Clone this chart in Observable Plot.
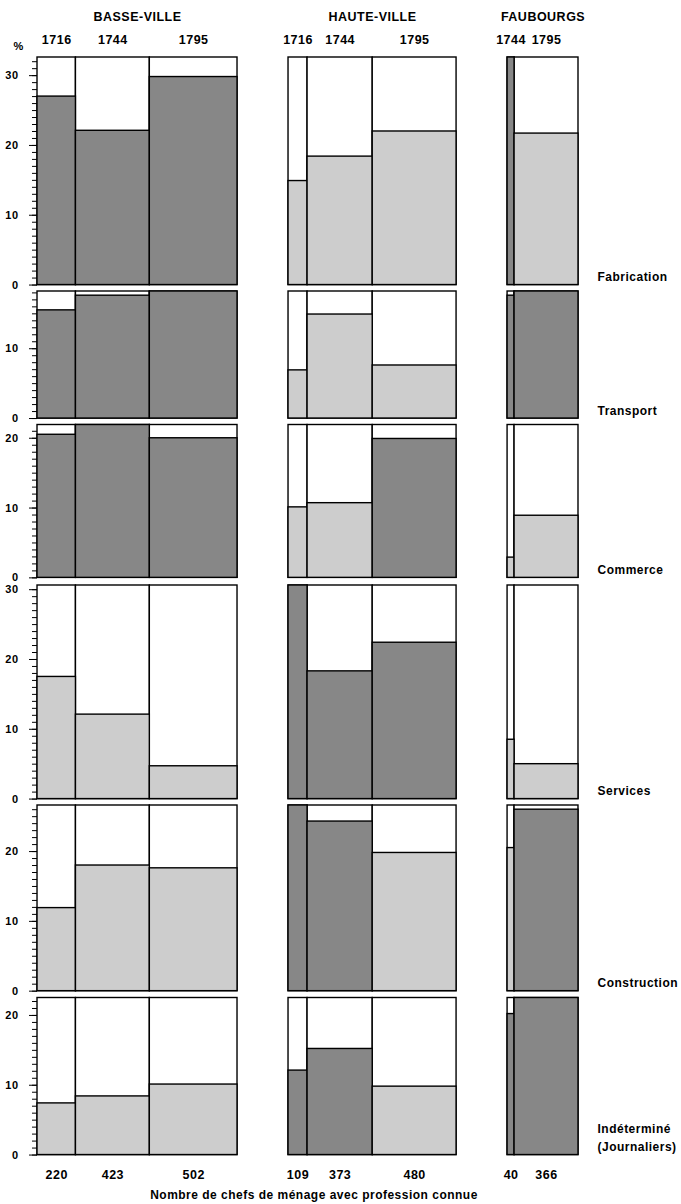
<!DOCTYPE html>
<html><head><meta charset="utf-8">
<script src="https://cdn.jsdelivr.net/npm/d3@7"></script>
<script src="https://cdn.jsdelivr.net/npm/@observablehq/plot@0.6"></script>
<style>
body{margin:0;background:#fff;}
#chart svg{display:block;}
</style></head><body><div id="chart"></div>
<script>
// ---- data ----
const groups = ["BASSE-VILLE", "HAUTE-VILLE", "FAUBOURGS"];
const columnGroup = [0, 0, 0, 1, 1, 1, 2, 2];
const columnYear = ["1716", "1744", "1795", "1716", "1744", "1795", "1744", "1795"];
const columnCount = [220, 423, 502, 109, 373, 480, 40, 366];
const categories = ["Fabrication", "Transport", "Commerce", "Services", "Construction", "Indéterminé\n(Journaliers)"];
const fabrication  = [27.0, 22.1, 29.8, 14.9, 18.4, 22.0, 32.6, 21.7];
const transport    = [15.5, 17.6, 18.2, 6.9, 14.9, 7.6, 17.6, 18.2];
const commerce     = [20.5, 21.9, 20.0, 10.1, 10.7, 19.9, 2.9, 8.9];
const services     = [17.5, 12.1, 4.7, 30.6, 18.3, 22.4, 8.5, 5.0];
const construction = [11.9, 18.0, 17.6, 26.6, 24.3, 19.8, 20.5, 26.0];
const indetermine  = [7.4, 8.4, 10.1, 12.1, 15.2, 9.8, 20.2, 22.5];
// D = dark screen, L = light screen
const fabricationShade  = ["D", "D", "D", "L", "L", "L", "D", "L"];
const transportShade    = ["D", "D", "D", "L", "L", "L", "D", "D"];
const commerceShade     = ["D", "D", "D", "L", "L", "D", "L", "L"];
const servicesShade     = ["L", "L", "L", "D", "D", "D", "L", "L"];
const constructionShade = ["L", "L", "L", "D", "D", "L", "L", "D"];
const indetermineShade  = ["L", "L", "L", "D", "D", "L", "D", "D"];
const caption = "Nombre de chefs de ménage avec profession connue";

// ---- layout ----
const GAP = 292;       // x units between groups
const PX = 6.98;       // pixels per percent
const DARK = "#878787", LIGHT = "#cdcdcd";
const FONT = "'Liberation Sans','Arial',sans-serif";
const marginTops    = [57, 3, 3.5, 4, 3, 3.5];
const marginBottoms = [3, 3, 4.5, 3, 3, 49.5];

let cursor = 0;
const cols = columnCount.map((n, i) => {
  if (i > 0 && columnGroup[i] !== columnGroup[i - 1]) cursor += GAP;
  const c = {i, group: columnGroup[i], year: columnYear[i], count: n, x1: cursor, x2: cursor + n};
  cursor += n;
  return c;
});
const xMax = cursor;
const groupData = groups.map((g, gi) => {
  const cs = cols.filter(c => c.group === gi);
  return {name: g, x: (cs[0].x1 + cs[cs.length - 1].x2) / 2};
});

const rows = [
  {name: categories[0], values: fabrication, shade: fabricationShade},
  {name: categories[1], values: transport, shade: transportShade},
  {name: categories[2], values: commerce, shade: commerceShade},
  {name: categories[3], values: services, shade: servicesShade},
  {name: categories[4], values: construction, shade: constructionShade},
  {name: categories[5], values: indetermine, shade: indetermineShade}
];

const chart = document.getElementById("chart");
rows.forEach((row, r) => {
  const max = d3.max(row.values);
  const first = r === 0, last = r === rows.length - 1;
  const mt = marginTops[r], mb = marginBottoms[r];
  const data = cols.map(c => ({...c, v: row.values[c.i], s: row.shade[c.i]}));
  const marks = [
    Plot.rect(data, {x1: "x1", x2: "x2", y1: 0, y2: max, fill: "white", stroke: "black", strokeWidth: 1.4}),
    Plot.rect(data, {x1: "x1", x2: "x2", y1: 0, y2: "v", fill: "s", stroke: "black", strokeWidth: 1.4}),
    Plot.axisY({ticks: d3.range(0, Math.floor(max) + 1), tickSize: 5, tickFormat: () => "", label: null}),
    Plot.axisY({ticks: d3.range(0, max + 0.001, 10), tickSize: 8, tickPadding: 11, label: null, fontSize: 11}),
    Plot.text([row.name], {frameAnchor: "bottom-right", textAnchor: "start", lineAnchor: "bottom", dx: 19, dy: -4, fontSize: 12, lineHeight: 1.5})
  ];
  if (first) {
    marks.push(
      Plot.text(cols, {x: d => (d.x1 + d.x2) / 2, y: max, dy: -17, text: "year", fontSize: 12.5}),
      Plot.text(groupData, {x: "x", y: max, dy: -40, text: "name", fontSize: 12.5}),
      Plot.text(["%"], {frameAnchor: "top-left", lineAnchor: "middle", dx: -24, dy: -11, fontSize: 11})
    );
  }
  if (last) {
    marks.push(
      Plot.text(cols, {x: d => (d.x1 + d.x2) / 2, y: 0, dy: 20, text: d => String(d.count), fontSize: 12.5}),
      Plot.text([caption], {frameAnchor: "bottom", lineAnchor: "middle", dx: 6, dy: 40, fontSize: 12})
    );
  }
  const svg = Plot.plot({
    width: 681,
    height: max * PX + mt + mb,
    marginTop: mt, marginBottom: mb, marginLeft: 37, marginRight: 103,
    x: {domain: [0, xMax], axis: null},
    y: {domain: [0, max], axis: null},
    color: {domain: ["D", "L"], range: [DARK, LIGHT]},
    style: {fontFamily: FONT, fontWeight: "bold", fontSize: "12px", letterSpacing: "0.5px", overflow: "visible", background: "white", color: "black"},
    marks
  });
  chart.appendChild(svg);
});
</script></body></html>
